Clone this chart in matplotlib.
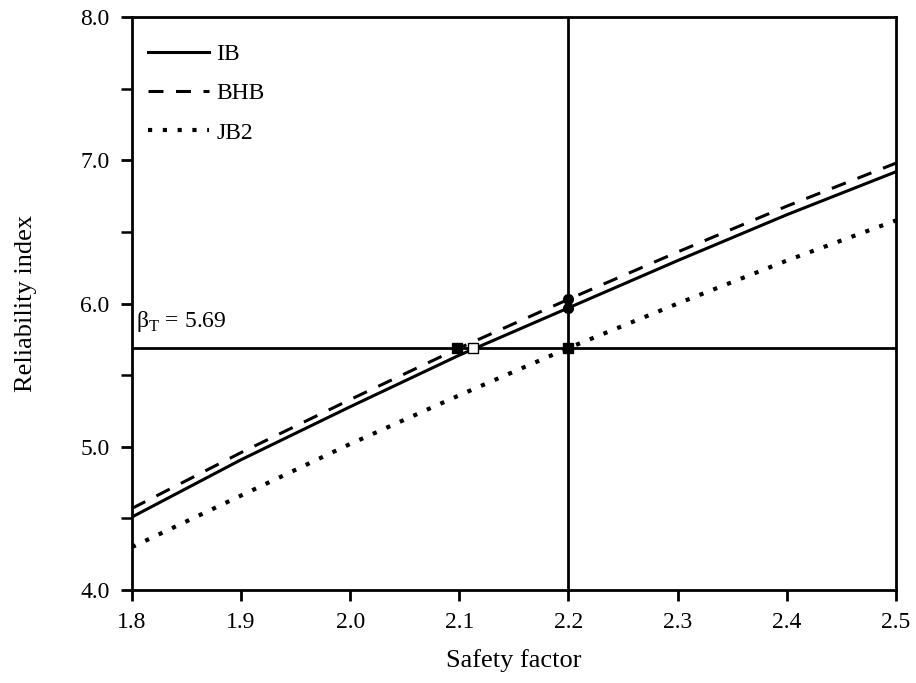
import matplotlib
matplotlib.use("Agg")
import matplotlib.pyplot as plt
from matplotlib.ticker import MultipleLocator, FormatStrFormatter

plt.rcParams['font.family'] = ['Liberation Serif', 'DejaVu Serif']
plt.rcParams['mathtext.fontset'] = 'custom'
plt.rcParams['mathtext.rm'] = 'Liberation Serif'

# Donnees
safety_factor = [1.8, 1.9, 2.0, 2.1, 2.2, 2.3, 2.4, 2.5]
beta_ib = [4.51, 4.91, 5.28, 5.64, 5.97, 6.30, 6.62, 6.92]
beta_bhb = [4.57, 4.96, 5.33, 5.69, 6.03, 6.36, 6.68, 6.98]
beta_jb2 = [4.30, 4.66, 5.02, 5.36, 5.69, 6.00, 6.30, 6.58]

beta_target = 5.69
sf_design = 2.2
# points d'intersection
sq_filled_x = [2.098, 2.2]
sq_open_x = [2.113]
circ_y = [6.03, 5.97]

fig = plt.figure(figsize=(9.16, 6.83), dpi=100)
ax = fig.add_axes([0.144, 0.136, 0.834, 0.839])

ax.plot(safety_factor, beta_ib, color='black', lw=2.2, label='IB')
ax.plot(safety_factor, beta_bhb, color='black', lw=2.2, dashes=(4.9, 4.1), label='BHB')
ax.plot(safety_factor, beta_jb2, color='black', lw=3.0, dashes=(1.0, 2.55), label='JB2')

ax.axhline(beta_target, color='black', lw=2)
ax.axvline(sf_design, color='black', lw=2)

ax.plot(sq_filled_x, [beta_target] * len(sq_filled_x), 's', color='black', ms=7, zorder=5)
ax.plot(sq_open_x, [beta_target], 's', mfc='white', mec='black', ms=7, zorder=5)
ax.plot([sf_design] * len(circ_y), circ_y, 'o', color='black', ms=7, zorder=5)

ax.text(1.804, 5.84, r'β$_\mathrm{T}$ = 5.69', fontsize=17)

ax.set_xlim(1.8, 2.5)
ax.set_ylim(4.0, 8.0)
ax.xaxis.set_major_locator(MultipleLocator(0.1))
ax.yaxis.set_major_locator(MultipleLocator(1.0))
ax.yaxis.set_minor_locator(MultipleLocator(0.5))
ax.xaxis.set_major_formatter(FormatStrFormatter('%.1f'))
ax.yaxis.set_major_formatter(FormatStrFormatter('%.1f'))
ax.tick_params(direction='out', length=8, width=2, labelsize=17, pad=8)
ax.tick_params(which='minor', direction='out', length=8, width=1.8)
for s in ax.spines.values():
    s.set_linewidth(2)

ax.set_xlabel('Safety factor', fontsize=19, labelpad=11)
ax.set_ylabel('Reliability index', fontsize=19, labelpad=31)

ax.legend(loc='upper left', frameon=False, fontsize=17, handlelength=2.6,
          handletextpad=0.3, labelspacing=0.75, borderaxespad=0.6,
          bbox_to_anchor=(-0.01, 0.995))

fig.savefig('out.png', dpi=100)
